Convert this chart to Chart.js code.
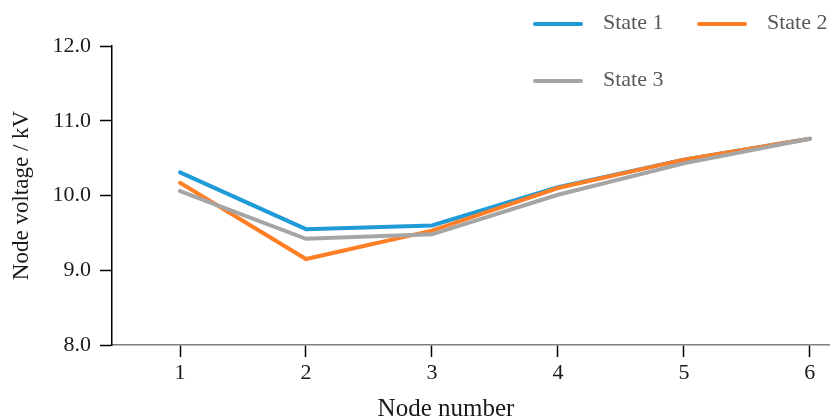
<!DOCTYPE html>
<html>
<head>
<meta charset="utf-8">
<script src="https://cdn.jsdelivr.net/npm/chart.js@4/dist/chart.umd.min.js"></script>
<style>
  body { margin: 0; background: #fff; }
  #wrap { position: relative; width: 830px; height: 419px; }
  #legend { position: absolute; left: 533px; top: 8px; display: grid;
    grid-template-columns: 164px 164px; row-gap: 29px;
    font-family: 'Liberation Serif', 'Times New Roman', serif; font-size: 22px; color: #595959; }
  .item { display: flex; align-items: center; height: 28px; white-space: nowrap; }
  .swatch { display: inline-block; width: 50px; height: 4px; border-radius: 2px; margin-right: 20px; position: relative; top: 2px; }
</style>
</head>
<body>
<div id="wrap">
  <canvas id="chart" width="830" height="419"></canvas>
  <div id="legend"></div>
</div>
<script>
// values
const nodes = [1, 2, 3, 4, 5, 6];
const state1 = [10.31, 9.55, 9.60, 10.11, 10.48, 10.76];
const state2 = [10.17, 9.15, 9.53, 10.10, 10.48, 10.76];
const state3 = [10.06, 9.42, 9.48, 10.01, 10.43, 10.76];
const seriesNames = ['State 1', 'State 2', 'State 3'];
const yTicks = [8, 9, 10, 11, 12];

const colors = ['rgb(31,155,215)', 'rgb(255,127,39)', 'rgb(165,165,165)'];
const font = "'Liberation Serif', 'Times New Roman', serif";

const toPoints = vals => nodes.map((n, i) => ({ x: n, y: vals[i] }));

const datasets = [state1, state2, state3].map((vals, i) => ({
  label: seriesNames[i],
  data: toPoints(vals),
  borderColor: colors[i],
  backgroundColor: colors[i],
  borderWidth: 4,
  borderCapStyle: 'round',
  pointRadius: 0,
  tension: 0,
  fill: false,
  clip: false,
  order: 2 - i, // grey drawn on top, blue underneath
}));

// x axis title sits a bit left of the plot centre in the original
const xTitle = {
  id: 'xTitle',
  afterDraw(chart) {
    const ctx = chart.ctx;
    ctx.save();
    ctx.font = '25px ' + font;
    ctx.fillStyle = '#1a1a1a';
    ctx.textAlign = 'center';
    ctx.textBaseline = 'middle';
    ctx.fillText('Node number', 446, 409);
    ctx.restore();
  }
};

const ctx = document.getElementById('chart').getContext('2d');
const chart = new Chart(ctx, {
  type: 'line',
  data: { datasets },
  options: {
    responsive: false,
    animation: false,
    layout: { padding: { top: 46, right: 0, bottom: 0, left: 0 } },
    plugins: { legend: { display: false }, tooltip: { enabled: false } },
    scales: {
      x: {
        type: 'linear',
        min: 0.46,
        max: 6.16,
        afterBuildTicks: s => { s.ticks = nodes.map(v => ({ value: v })); },
        afterFit: s => { s.height = 74; },
        grid: { display: true, drawOnChartArea: false, drawTicks: true, tickLength: 12, tickColor: '#000', tickWidth: 1.5 },
        border: { display: true, color: '#7f7f7f', width: 1.5 },
        ticks: { color: '#1a1a1a', font: { family: font, size: 22 }, padding: 3, maxRotation: 0 },
      },
      y: {
        min: 8,
        max: 12,
        afterBuildTicks: s => { s.ticks = yTicks.map(v => ({ value: v })); },
        afterFit: s => { s.width = 112; },
        grid: { display: true, drawOnChartArea: false, drawTicks: true, tickLength: 12, tickColor: '#000', tickWidth: 1.5 },
        border: { display: true, color: '#000', width: 1.5 },
        ticks: { color: '#1a1a1a', font: { family: font, size: 22 }, padding: 9, callback: v => v.toFixed(1) },
        title: { display: true, text: 'Node voltage / kV', color: '#1a1a1a', font: { family: font, size: 23 }, padding: { top: 8, bottom: 0 } },
      },
    },
  },
  plugins: [xTitle],
});

// simple html legend, two per row like the original
const legend = document.getElementById('legend');
seriesNames.forEach((name, i) => {
  const item = document.createElement('div');
  item.className = 'item';
  item.innerHTML = `<span class="swatch" style="background:${colors[i]}"></span><span>${name}</span>`;
  legend.appendChild(item);
});
</script>
</body>
</html>
